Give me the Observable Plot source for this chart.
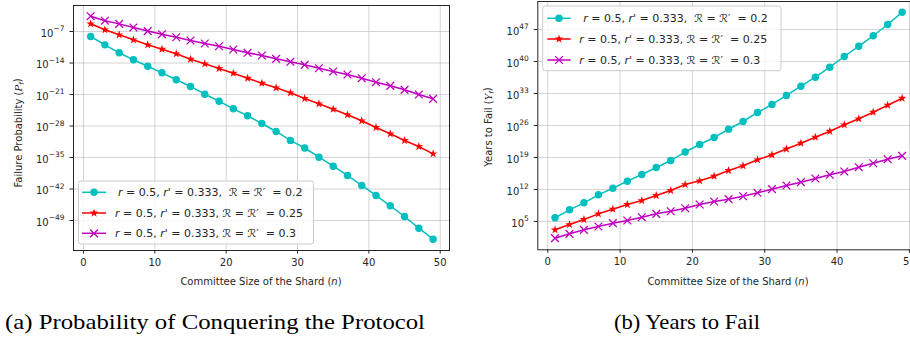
<!DOCTYPE html>
<html><head><meta charset="utf-8">
<script src="https://cdn.jsdelivr.net/npm/d3@7"></script>
<script src="https://cdn.jsdelivr.net/npm/@observablehq/plot@0.6"></script>
<style>
html,body{margin:0;padding:0;background:#fff;overflow:hidden;}
#fig{position:relative;width:910px;height:341px;overflow:hidden;background:#fff;}
.panel{position:absolute;top:0;}
.cap{position:absolute;font-family:"Liberation Serif","DejaVu Serif",serif;font-size:22px;color:#000;white-space:nowrap;line-height:1;transform-origin:0 0;}
</style></head><body><div id="fig"></div>
<script>
// committee sizes
const n = [1,3,5,7,9,11,13,15,17,19,21,23,25,27,29,31,33,35,37,39,41,43,45,47,49];
// (a) failure probability, exponents of 10
const failExp02  = [-8.11,-9.96,-11.73,-13.29,-14.71,-16.18,-17.73,-19.22,-20.93,-22.49,-24.18,-25.73,-27.44,-29.22,-31.2,-32.89,-34.93,-36.93,-39.0,-41.22,-43.44,-45.73,-48.11,-50.71,-53.16];
const failExp025 = [-5.29,-6.62,-7.73,-8.84,-9.96,-10.93,-11.96,-13.16,-14.18,-15.22,-16.27,-17.38,-18.49,-19.51,-20.62,-21.89,-23.07,-24.27,-25.51,-26.84,-28.33,-29.73,-31.22,-32.56,-34.18];
const failExp03  = [-3.6,-4.6,-5.3,-6.1,-6.9,-7.6,-8.27,-9.0,-9.67,-10.27,-11.0,-11.73,-12.33,-13.07,-13.73,-14.4,-15.16,-15.89,-16.56,-17.38,-18.27,-19.07,-19.96,-21.0,-21.96];
// (b) years to fail, exponents of 10
const yearsExp02  = [5.81,7.56,9.09,10.84,12.28,13.82,15.28,16.81,18.34,20.2,21.85,23.38,25.19,26.88,28.85,30.6,32.57,34.6,36.57,38.76,41.1,43.35,45.63,48.1,50.79];
const yearsExp025 = [3.18,4.34,5.44,6.68,7.69,8.72,9.59,10.69,11.78,13.09,13.9,14.91,16.16,17.19,18.5,19.59,20.86,22.13,23.44,24.75,26.16,27.47,28.91,30.44,31.97];
const yearsExp03  = [1.35,2.31,3.18,3.91,4.63,5.22,5.94,6.68,7.25,7.91,8.72,9.38,9.88,10.53,11.28,12.07,12.88,13.6,14.41,15.22,15.94,16.88,17.75,18.63,19.37];
// ticks
const xTicks = [0,10,20,30,40,50];
const failTickExp = [-7,-14,-21,-28,-35,-42,-49];
const yearsTickExp = [5,12,19,26,33,40,47];
// series
const seriesR = ["0.2","0.25","0.3"];
const seriesColor = ["#00bfbf","#ff0000","#bf00bf"];
const seriesSymbol = ["circle","star","times"];
const seriesRadius = [3.7,2.7,3.6];

const fig = document.getElementById("fig");
const INK = "#262626";
const symMap = {circle:d3.symbolCircle, star:d3.symbolStar, times:d3.symbolTimes};

function rows(exps){ return n.map((k,i)=>({n:k, v:Math.pow(10, exps[i])})); }

function fixTicks(svg){
  d3.select(svg).selectAll('g[aria-label="y-axis tick label"] text').each(function(){
    const t = d3.select(this);
    const s = t.text();
    const e = s.split("^")[1].replace("-", "\u2212");
    t.text(null);
    t.append("tspan").attr("dy","0.2em").text("10");
    t.append("tspan").attr("dy","-0.72em").attr("font-size","7.5px").text(e);
  });
}

function addLegend(svg, bx, by, bw, bh, rowY, lineX0, lineX1, textX, firstShift){
  const g = d3.select(svg).append("g").attr("text-anchor","start");
  g.append("rect").attr("x",bx).attr("y",by).attr("width",bw).attr("height",bh)
    .attr("rx",2.5).attr("fill","#fff").attr("fill-opacity",0.8).attr("stroke","#cccccc").attr("stroke-width",1);
  seriesR.forEach((r,i)=>{
    const y = rowY[i];
    g.append("line").attr("x1",lineX0).attr("x2",lineX1).attr("y1",y).attr("y2",y)
      .attr("stroke",seriesColor[i]).attr("stroke-width",1.5);
    const rad = seriesRadius[i];
    const p = g.append("path").attr("d", d3.symbol(symMap[seriesSymbol[i]], Math.PI*rad*rad)())
      .attr("transform",`translate(${(lineX0+lineX1)/2},${y})`);
    if (seriesSymbol[i]==="times") p.attr("fill","none").attr("stroke",seriesColor[i]).attr("stroke-width",1.3);
    else p.attr("fill",seriesColor[i]);
    const t = g.append("text").attr("x", textX + (i===0?firstShift:0)).attr("y",y).attr("dy","0.36em")
      .attr("text-anchor","start").attr("font-size","11px").attr("fill",INK).style("white-space","pre");
    t.append("tspan").attr("font-style","italic").text("r");
    t.append("tspan").text(" = 0.5, ");
    t.append("tspan").attr("font-style","italic").text("r");
    t.append("tspan").text(i===0 ? "' = 0.333,  \u211B = \u211B\u2032  = " : "' = 0.333, \u211B = \u211B\u2032  = ");
    t.append("tspan").text(r);
  });
}

function addLabels(svg, xc, xy, yx, yc, yWord, ySym){
  const s = d3.select(svg);
  const t = s.append("text").attr("x",xc).attr("y",xy).attr("text-anchor","middle").attr("font-size","10px").attr("fill",INK).style("white-space","pre");
  t.append("tspan").text("Committee Size of the Shard (");
  t.append("tspan").attr("font-style","italic").text("n");
  t.append("tspan").text(")");
  const u = s.append("text").attr("transform",`translate(${yx},${yc}) rotate(-90)`).attr("text-anchor","middle")
    .attr("font-size","10px").attr("fill",INK).style("white-space","pre");
  u.append("tspan").text(yWord + " (");
  u.append("tspan").attr("font-family","DejaVu Serif").attr("font-style","italic").text(ySym);
  u.append("tspan").attr("font-size","7px").attr("dy","0.3em").attr("font-style","italic").text("f");
  u.append("tspan").attr("dy","-0.3em").text(")");
}

function makePanel(cfg){
  const data = cfg.exps.map(rows);
  const yTicks = cfg.tickExp.map(e=>Math.pow(10,e));
  const marks = [
    Plot.gridX(xTicks,{stroke:"#b0b0b0",strokeOpacity:0.55,strokeWidth:1}),
    Plot.gridY(yTicks,{stroke:"#b0b0b0",strokeOpacity:0.55,strokeWidth:1}),
    Plot.axisX(xTicks,{tickSize:3.5,tickPadding:5,label:null,fontSize:10}),
    Plot.axisY(yTicks,{tickSize:3.5,tickPadding:5.5,label:null,fontSize:10,
      tickFormat:d=>"10^"+Math.round(Math.log10(d))})
  ];
  data.forEach((d,i)=>{
    marks.push(Plot.line(d,{x:"n",y:"v",stroke:seriesColor[i],strokeWidth:1.5}));
    if (seriesSymbol[i]==="times")
      marks.push(Plot.dot(d,{x:"n",y:"v",symbol:"times",stroke:seriesColor[i],strokeWidth:1.3,r:seriesRadius[i]}));
    else
      marks.push(Plot.dot(d,{x:"n",y:"v",symbol:seriesSymbol[i],fill:seriesColor[i],stroke:"none",r:seriesRadius[i]}));
  });
  marks.push(Plot.frame({stroke:INK,strokeWidth:1}));
  const svg = Plot.plot({
    width:460, height:290,
    marginLeft:cfg.ml, marginRight:cfg.mr, marginTop:cfg.mt, marginBottom:cfg.mb,
    style:{fontFamily:"'DejaVu Sans', sans-serif", fontSize:"10px", color:INK, background:"transparent", overflow:"visible"},
    x:{domain:cfg.xDomain},
    y:{type:"log", domain:cfg.yDomainExp.map(e=>Math.pow(10,e))},
    marks
  });
  svg.classList.add("panel");
  svg.style.left = cfg.left + "px";
  fixTicks(svg);
  return svg;
}

// panel (a)
const svgA = makePanel({exps:[failExp02,failExp025,failExp03], tickExp:failTickExp,
  yDomainExp:[-55.67,-1.22], xDomain:[-1.4,51.3], ml:73, mr:11, mt:5, mb:40, left:0});
addLabels(svgA, 261, 285, 22, 133, "Failure Probability", "P");
addLegend(svgA, 78.5, 181, 235, 63, [192.3,213,233.3], 82, 106, 115, 3);
fig.appendChild(svgA);

// panel (b)
const svgB = makePanel({exps:[yearsExp02,yearsExp025,yearsExp03], tickExp:yearsTickExp,
  yDomainExp:[-1.19,53.13], xDomain:[-1.38,51.4], ml:77.3, mr:1, mt:1, mb:40.7, left:460});
addLabels(svgB, 268, 285, 32, 127, "Years to Fail", "Y");
addLegend(svgB, 82.7, 6, 238.3, 64.7, [18.3,39,60], 87.3, 110.7, 119.3, 4);
fig.appendChild(svgB);

// captions
function caption(text, left, targetWidth){
  const c = document.createElement("div");
  c.className = "cap"; c.style.left = left + "px"; c.style.top = "311px";
  c.textContent = text;
  fig.appendChild(c);
  const w = c.getBoundingClientRect().width;
  c.style.transform = `scaleX(${targetWidth / w})`;
}
caption("(a) Probability of Conquering the Protocol", 5, 420);
caption("(b) Years to Fail", 614, 146);
</script>
</body></html>
